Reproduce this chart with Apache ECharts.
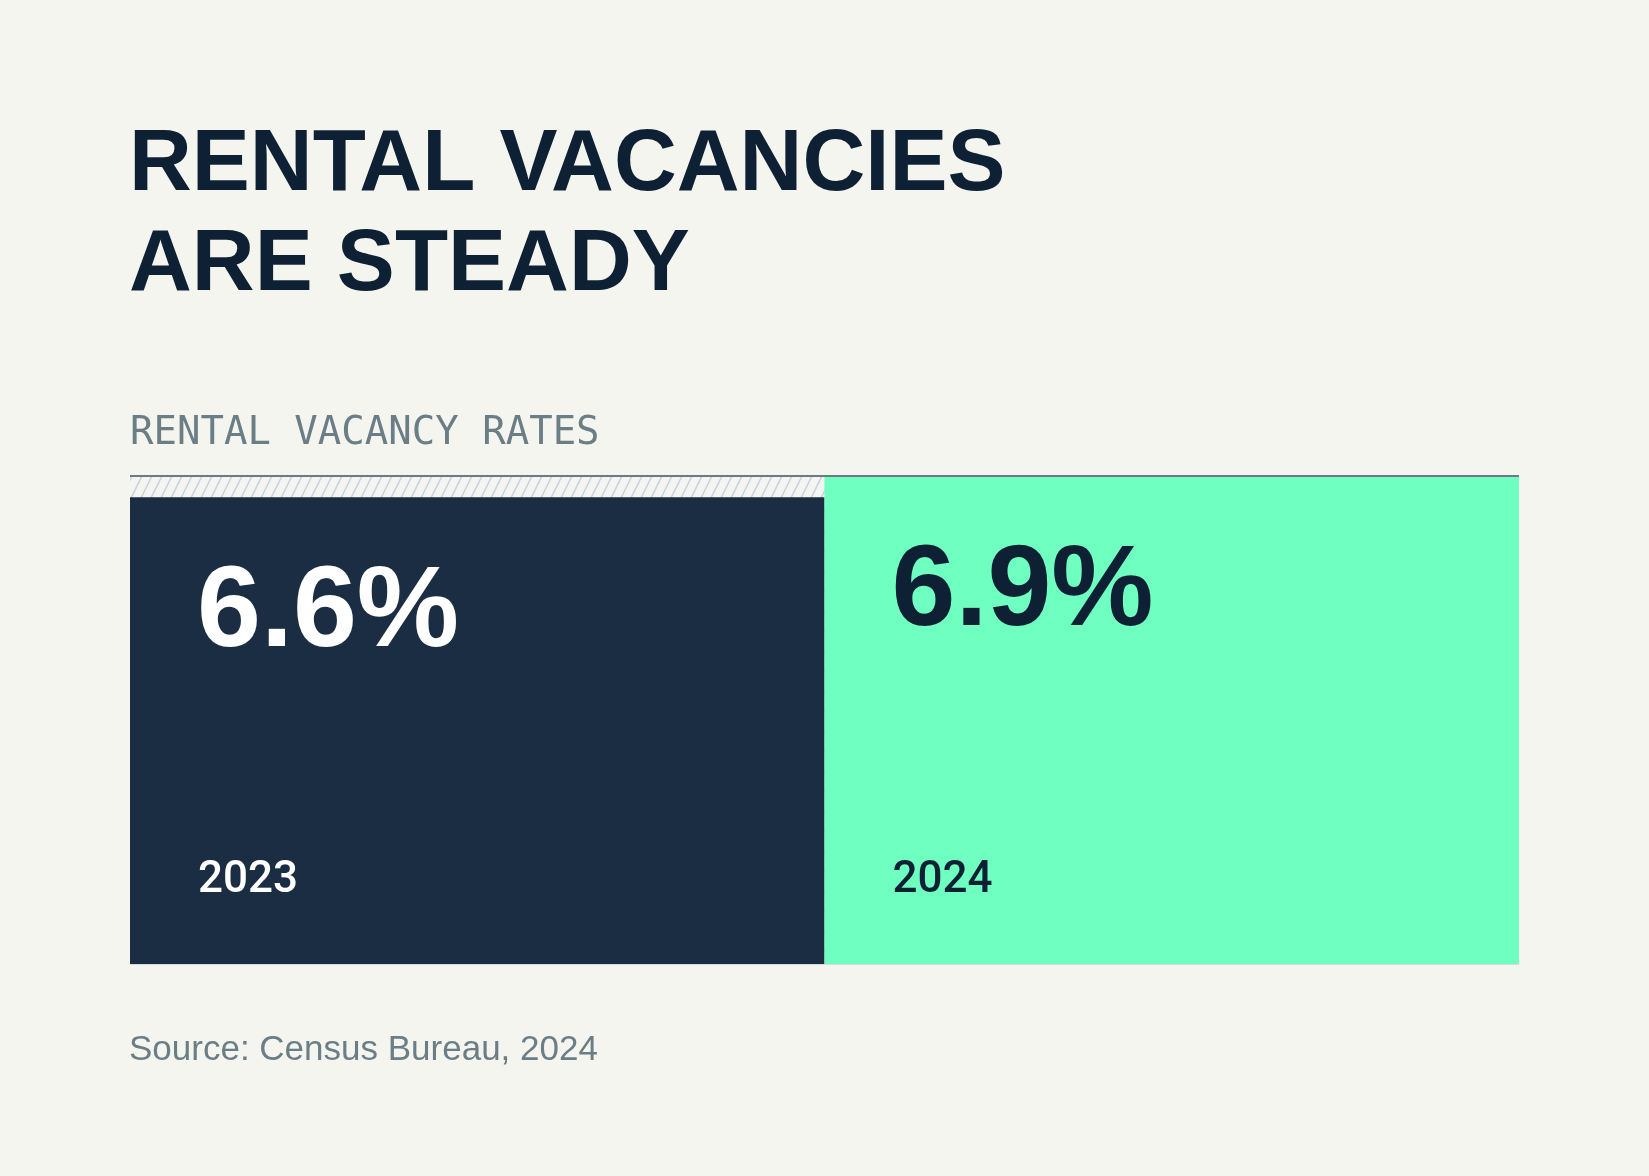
<html lang="en">
<head>
  <meta charset="UTF-8">
  <title>Rental vacancies</title>
  <style>
    * { margin: 0; padding: 0; }
    body { background: #f5f5f0; }
    #main { width: 1649px; height: 1176px; }
  </style>
</head>
<body>
  <div id="main"></div>
  <script src="https://cdn.jsdelivr.net/npm/echarts@6/dist/echarts.min.js"></script>
  <script>
  // data
  var categories = ['2023', '2024'];
  var rates = [6.6, 6.9];

  var barColors = ['#1a2d42', '#6effc1'];
  var textColors = ['#ffffff', '#0e2033'];
  var vmax = Math.max.apply(null, rates);

  // diagonal hatch tile for the gap above the lower bar
  function hatchTile() {
    var c = document.createElement('canvas');
    c.width = 10; c.height = 20;
    var g = c.getContext('2d');
    g.fillStyle = '#f4f5f1';
    g.fillRect(0, 0, 10, 20);
    g.strokeStyle = '#c9d2dd';
    g.lineWidth = 1.6;
    [-10, 0, 10].forEach(function (dx) {
      g.beginPath();
      g.moveTo(dx, 20);
      g.lineTo(dx + 10, 0);
      g.stroke();
    });
    return c;
  }

  var chart = echarts.init(document.getElementById('main'));

  var option = {
    backgroundColor: '#f5f5f0',
    animation: false,
    title: [
      {
        text: 'RENTAL VACANCIES\nARE STEADY',
        left: 124, top: 111,
        textStyle: { fontFamily: 'Liberation Sans', fontWeight: 'bold', fontSize: 87, lineHeight: 100, color: '#0e2033' }
      },
      {
        text: 'RENTAL VACANCY RATES',
        left: 125, top: 409,
        textStyle: { fontFamily: 'DejaVu Sans Mono', fontWeight: 'normal', fontSize: 39, lineHeight: 40, color: '#6b7d85' }
      },
      {
        text: 'Source: Census Bureau, 2024',
        left: 124, top: 1025,
        textStyle: { fontFamily: 'Liberation Sans', fontWeight: 'normal', fontSize: 35, lineHeight: 40, color: '#6b7d85' }
      }
    ],
    grid: { left: 130, right: 130, top: 476, bottom: 212 },
    xAxis: {
      type: 'category',
      data: categories,
      axisLine: { show: true, lineStyle: { color: '#d6dad8', width: 1 } },
      axisTick: { show: false },
      axisLabel: { show: false }
    },
    yAxis: {
      type: 'value',
      min: 0,
      max: vmax,
      show: false,
      splitLine: { show: false }
    },
    series: [
      {
        // hatched background up to the highest rate
        type: 'bar',
        barGap: '-100%',
        barCategoryGap: '0%',
        silent: true,
        data: categories.map(function () { return vmax; }),
        itemStyle: { color: { image: hatchTile(), repeat: 'repeat' } }
      },
      {
        type: 'bar',
        barGap: '-100%',
        barCategoryGap: '0%',
        silent: true,
        data: rates.map(function (v, i) {
          return {
            value: v,
            itemStyle: { color: barColors[i] },
            label: { color: textColors[i] }
          };
        }),
        label: {
          show: true,
          position: [67, 60],
          align: 'left',
          verticalAlign: 'top',
          fontFamily: 'Liberation Sans',
          fontWeight: 'bold',
          fontSize: 115,
          formatter: function (p) { return p.value.toFixed(1) + '%'; }
        }
      },
      {
        // year labels along the bottom
        type: 'bar',
        barGap: '-100%',
        barCategoryGap: '0%',
        silent: true,
        z: 5,
        data: categories.map(function (c, i) {
          return { value: vmax, label: { color: textColors[i] } };
        }),
        itemStyle: { color: 'transparent' },
        label: {
          show: true,
          position: 'insideBottomLeft',
          distance: 65,
          offset: [3, 4],
          fontFamily: 'Roboto',
          fontWeight: 500,
          fontSize: 44,
          formatter: '{b}'
        },
        markLine: {
          silent: true,
          symbol: ['none', 'none'],
          label: { show: false },
          lineStyle: { color: '#6b7b84', width: 2, type: 'solid' },
          data: [{ yAxis: vmax }]
        }
      }
    ]
  };

  chart.setOption(option);
  </script>
</body>
</html>
